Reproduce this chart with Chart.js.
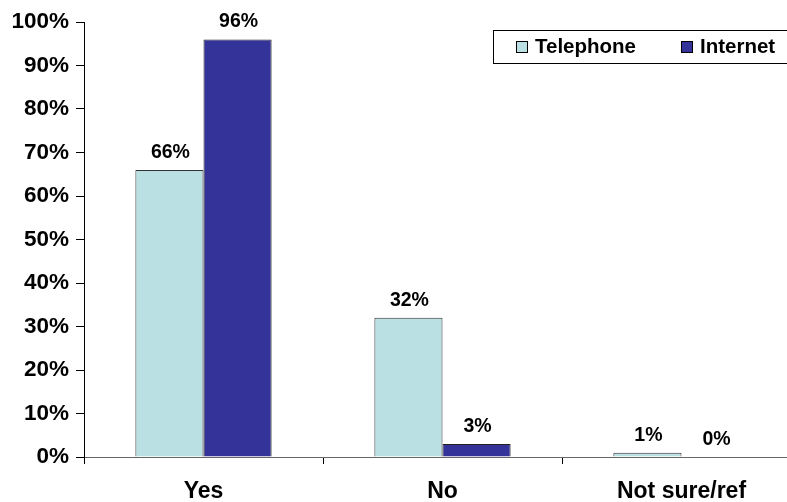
<!DOCTYPE html>
<html>
<head>
<meta charset="utf-8">
<script src="https://cdn.jsdelivr.net/npm/chart.js@4/dist/chart.umd.min.js"></script>
<style>
  html, body { margin: 0; padding: 0; background: #fff; overflow: hidden; }
  #wrap { width: 802px; height: 502px; }
</style>
</head>
<body>
<div id="wrap"><canvas id="chart" width="802" height="502"></canvas></div>
<script>
// datos
const categories = ['Yes', 'No', 'Not sure/ref'];
const telephone = [66, 32, 1];
const internet = [96, 3, 0];
const yTicks = [0, 10, 20, 30, 40, 50, 60, 70, 80, 90, 100];

const FONT = "'Liberation Sans', Arial, sans-serif";

// etiquetas encima de cada barra
const barLabels = {
  id: 'barLabels',
  afterDatasetsDraw(chart) {
    const ctx = chart.ctx;
    ctx.save();
    ctx.font = 'bold 19.5px ' + FONT;
    ctx.fillStyle = '#000';
    ctx.textAlign = 'center';
    ctx.textBaseline = 'alphabetic';
    chart.data.datasets.forEach((ds, i) => {
      chart.getDatasetMeta(i).data.forEach((bar, j) => {
        ctx.fillText(ds.data[j] + '%', bar.x + 1, bar.y - 12);
      });
    });
    ctx.restore();
  }
};

// leyenda con recuadro
const boxLegend = {
  id: 'boxLegend',
  afterDraw(chart) {
    const ctx = chart.ctx;
    ctx.save();
    ctx.fillStyle = '#fff';
    ctx.fillRect(493, 30, 320, 33);
    ctx.strokeStyle = '#000';
    ctx.lineWidth = 1;
    ctx.strokeRect(493.5, 30.5, 320, 33);
    ctx.font = 'bold 20.5px ' + FONT;
    ctx.textBaseline = 'middle';
    let x = 516;
    chart.data.datasets.forEach(ds => {
      ctx.fillStyle = ds.backgroundColor;
      ctx.fillRect(x, 41, 12, 12);
      ctx.strokeStyle = '#000';
      ctx.strokeRect(x + 0.5, 41.5, 11, 11);
      ctx.fillStyle = '#000';
      ctx.fillText(ds.label, x + 19, 47.5);
      x += 19 + ctx.measureText(ds.label).width + 45;
    });
    ctx.restore();
  }
};

new Chart(document.getElementById('chart'), {
  type: 'bar',
  data: {
    labels: categories,
    datasets: [
      {
        label: 'Telephone',
        data: telephone,
        backgroundColor: '#BBE0E3',
        borderColor: '#333',
        borderWidth: 1,
        categoryPercentage: 0.57,
        barPercentage: 1.0
      },
      {
        label: 'Internet',
        data: internet,
        backgroundColor: '#333399',
        borderColor: '#222',
        borderWidth: 1,
        categoryPercentage: 0.57,
        barPercentage: 1.0
      }
    ]
  },
  options: {
    responsive: false,
    animation: false,
    layout: { padding: { top: 22, right: 1, left: 0, bottom: 0 } },
    plugins: {
      legend: { display: false },
      tooltip: { enabled: false }
    },
    scales: {
      x: {
        afterFit: (s) => { s.height = 45; },
        grid: {
          offset: true,
          drawOnChartArea: false,
          drawTicks: true,
          tickLength: 7,
          color: '#000'
        },
        border: { color: '#666', width: 1 },
        ticks: {
          color: '#000',
          padding: 14,
          font: { family: FONT, size: 23, weight: 'bold' }
        }
      },
      y: {
        min: 0,
        max: 100,
        afterFit: (s) => { s.width = 84; },
        afterBuildTicks: (s) => { s.ticks = yTicks.map(v => ({ value: v })); },
        grid: {
          drawOnChartArea: false,
          drawTicks: true,
          tickLength: 8,
          color: '#000'
        },
        border: { color: '#000', width: 1 },
        ticks: {
          color: '#000',
          padding: 7,
          font: { family: FONT, size: 22.5, weight: 'bold' },
          callback: (v) => v + '%'
        }
      }
    }
  },
  plugins: [barLabels, boxLegend]
});
</script>
</body>
</html>
